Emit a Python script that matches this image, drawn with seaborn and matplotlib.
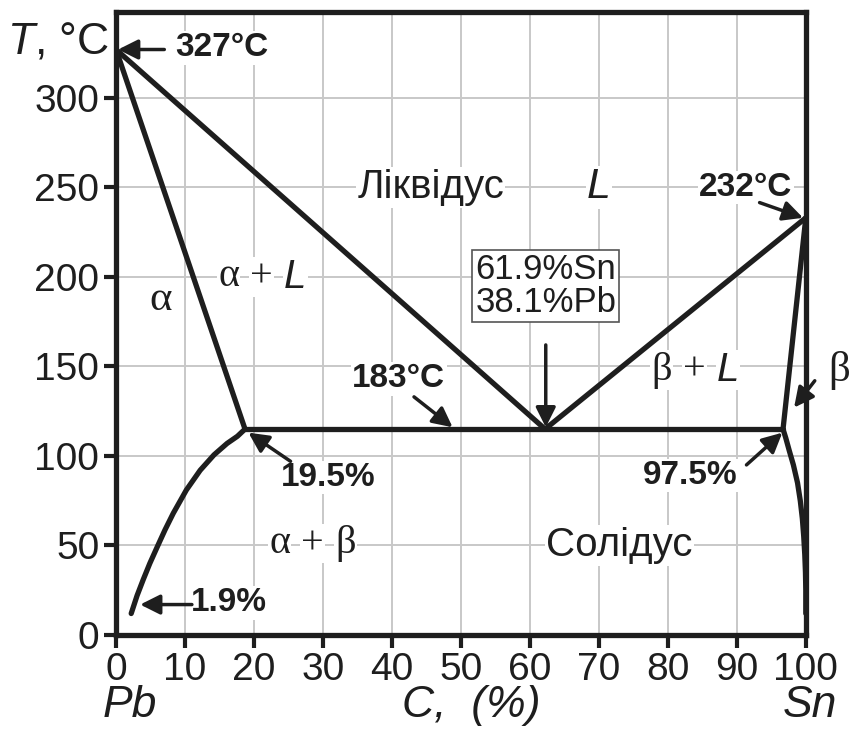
import numpy as np
import pandas as pd
import seaborn as sns
import matplotlib.pyplot as plt

# dados do diagrama Pb-Sn (eixo y como desenhado)
liq_esq_x = [0, 62.2]
liq_esq_y = [327, 115]
liq_dir_x = [62.2, 100]
liq_dir_y = [115, 233]
sol_alfa_x = [0, 18.7]
sol_alfa_y = [327, 115]
solvus_alfa_x = [18.7, 17.6, 16.1, 14.2, 12.2, 10.2, 8.3, 7.1, 5.95, 4.9, 3.95, 3.05, 2.2]
solvus_alfa_y = [115, 111, 107, 100.6, 92, 81, 68, 58.7, 49, 40, 31, 22, 12]
sol_beta_x = [96.7, 100]
sol_beta_y = [115, 233]
solvus_beta_x = [96.7, 97.1, 97.6, 98.2, 98.8, 99.2, 99.5, 99.7, 99.85, 99.95, 100, 100]
solvus_beta_y = [115, 110, 103, 95, 85, 75, 65, 55, 45, 35, 25, 12]
eutetica_x = [18.7, 96.7]
eutetica_y = [115, 115]

x_ticks = list(range(0, 101, 10))
y_ticks = list(range(0, 301, 50))

sns.set_theme(style='white')
plt.rcParams['font.family'] = ['Liberation Sans', 'DejaVu Sans']
plt.rcParams['mathtext.fontset'] = 'custom'
plt.rcParams['mathtext.it'] = 'Liberation Sans:italic'

cor = '#1e1e1e'
fig = plt.figure(figsize=(8.5, 7.44), dpi=100)
ax = fig.add_axes([0.1365, 0.1465, 0.8115, 0.8375])

ax.set_xlim(0, 100)
ax.set_ylim(0, 348)
ax.set_xticks(x_ticks)
ax.set_yticks(y_ticks)
ax.grid(True, color='#c8c8c8', lw=1.4)
ax.set_axisbelow(True)
for s in ax.spines.values():
    s.set_linewidth(3.8)
    s.set_color(cor)
ax.tick_params(direction='out', length=9, width=3, color=cor, labelsize=28,
               labelcolor=cor, pad=3, left=True, bottom=True)

curvas = [(liq_esq_x, liq_esq_y), (liq_dir_x, liq_dir_y), (sol_alfa_x, sol_alfa_y),
          (solvus_alfa_x, solvus_alfa_y), (sol_beta_x, sol_beta_y),
          (solvus_beta_x, solvus_beta_y), (eutetica_x, eutetica_y)]
for cx, cy in curvas:
    df = pd.DataFrame({'x': cx, 'y': cy})
    sns.lineplot(data=df, x='x', y='y', sort=False, estimator=None, color=cor,
                 lw=3.8, ax=ax, solid_capstyle='round', solid_joinstyle='round')
ax.set_xlabel('')
ax.set_ylabel('')

branco = dict(fc='white', ec='none', pad=1)
seta = dict(arrowstyle='-|>', color=cor, lw=2.5, mutation_scale=30, shrinkA=0, shrinkB=0)
serif = 'Liberation Serif'


def fases(x, y, partes, fs=29):
    # partes: (texto, italico sans?) escritas em sequencia a partir de x
    t = ax.text(x, y, partes[0][0], ha='left', va='center', fontsize=fs, color=cor,
                family=serif, bbox=branco)
    for txt, ital in partes[1:]:
        kw = dict(family='Liberation Sans', style='italic') if ital else dict(family=serif)
        t = ax.annotate(txt, xy=(1, 0.5), xycoords=t, xytext=(8, 0),
                        textcoords='offset points', ha='left', va='center',
                        fontsize=fs, color=cor, bbox=branco, **kw)


def rotulo(txt, x, y, **kw):
    ax.text(x, y, txt, ha='center', va='center', color=cor, bbox=branco, **kw)


rotulo('Ліквідус', 45.6, 250, fontsize=29)
rotulo('L', 70, 250, fontsize=31, style='italic')
fases(14.8, 200, [('α', False), ('+', False), ('L', True)])
rotulo('α', 6.4, 187, fontsize=31, family=serif)
fases(77.6, 148, [('β', False), ('+', False), ('L', True)])
fases(22.2, 51, [('α', False), ('+', False), ('β', False)])
rotulo('Солідус', 73, 50, fontsize=29)
ax.text(62.3, 195, '61.9%Sn\n38.1%Pb', ha='center', va='center', fontsize=25,
        color=cor, linespacing=1.0,
        bbox=dict(fc='white', ec='#555555', lw=1.2, pad=2))
ax.text(104.8, 148, 'β', ha='center', va='center', fontsize=31, family=serif,
        color=cor, clip_on=False)

negrito = dict(fontsize=24, fontweight='bold', ha='center', va='center', color=cor,
               bbox=branco)
ax.text(15.4, 328, '327°C', **negrito)
ax.annotate('', xy=(0.3, 327), xytext=(7.0, 327), arrowprops=seta)
ax.text(91.3, 250, '232°C', **negrito)
ax.annotate('', xy=(99.6, 233), xytext=(93.3, 241.5), arrowprops=seta)
ax.text(41.0, 143, '183°C', **negrito)
ax.annotate('', xy=(48.8, 116), xytext=(43.2, 133), arrowprops=seta)
ax.annotate('', xy=(62.3, 116), xytext=(62.3, 162), arrowprops=seta)
ax.text(30.8, 88, '19.5%', **negrito)
ax.annotate('', xy=(19.2, 113), xytext=(25.3, 97), arrowprops=seta)
ax.text(83.2, 89, '97.5%', **negrito)
ax.annotate('', xy=(96.6, 113), xytext=(91.4, 95), arrowprops=seta)
ax.text(16.4, 18, '1.9%', **negrito)
ax.annotate('', xy=(3.5, 17), xytext=(11.0, 17), arrowprops=seta)
ax.annotate('', xy=(98.3, 127), xytext=(101.3, 142), arrowprops=seta,
            annotation_clip=False)

fig.text(0.068, 0.944, r'$\mathit{T}$, °C', fontsize=32, ha='center', va='center',
         color=cor)
fig.text(0.153, 0.052, 'Pb', fontsize=32, style='italic', ha='center', va='center',
         color=cor)
fig.text(0.953, 0.052, 'Sn', fontsize=32, style='italic', ha='center', va='center',
         color=cor)
fig.text(0.555, 0.052, 'C,  (%)', fontsize=32, style='italic', ha='center',
         va='center', color=cor)

fig.savefig('out.png', dpi=100, facecolor='white')
